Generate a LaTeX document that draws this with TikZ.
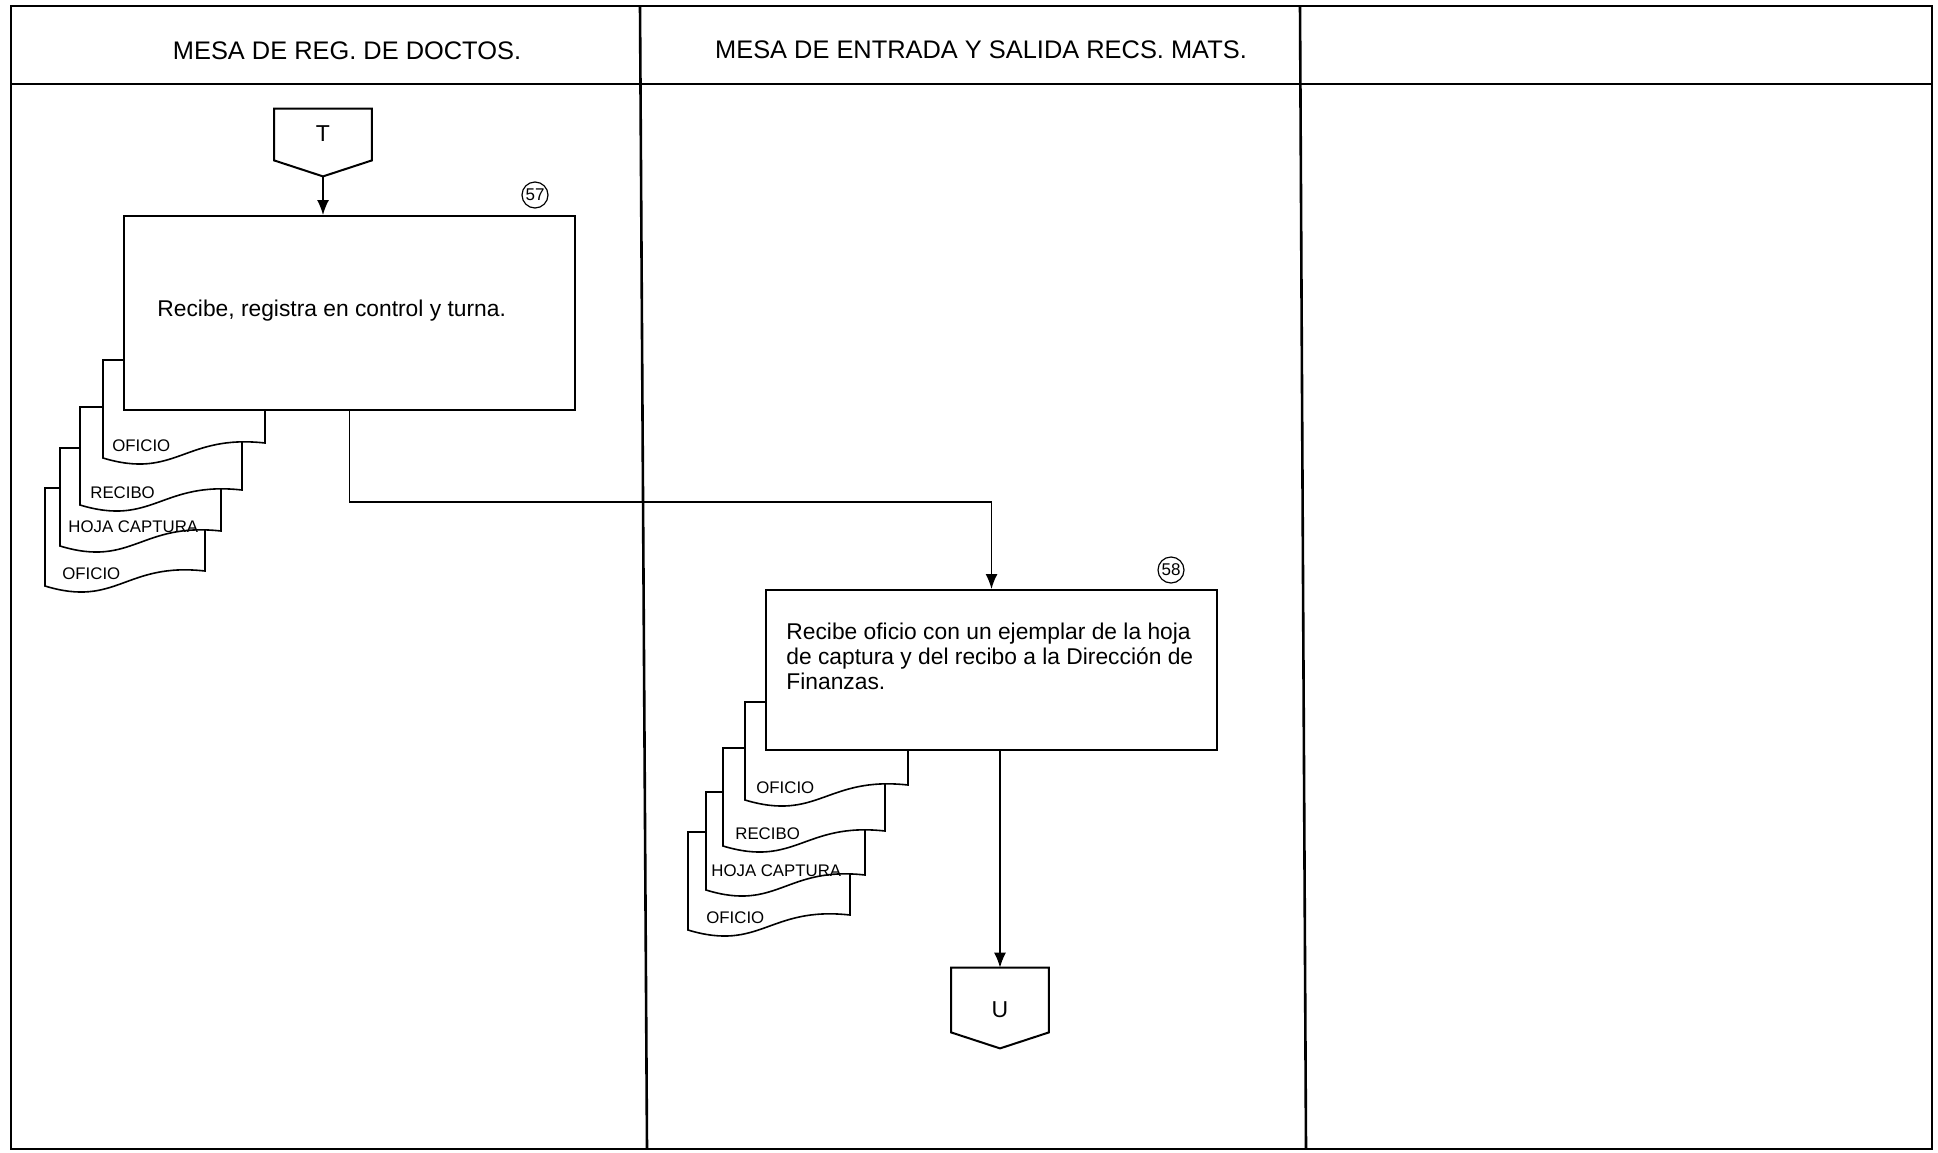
\documentclass[tikz,border=0pt]{standalone}
\usepackage{fontspec}
\setmainfont{Liberation Sans}
\usetikzlibrary{arrows.meta,calc}

\tikzset{
  lane/.style={line width=1.3pt},
  procbox/.style={draw, line width=1pt, fill=white, rectangle, inner sep=0pt},
  flow/.style={line width=0.7pt},
  flowarrow/.style={flow, -{Latex[length=7.5pt,width=6pt]}},
  docshape/.style={draw, line width=0.8pt, fill=white},
  doclabel/.style={font=\fontsize{8.4}{9}\selectfont, anchor=base west, inner sep=0pt},
  steptext/.style={font=\fontsize{11.4}{12.3}\selectfont, align=left, inner sep=0pt},
  headtext/.style={font=\fontsize{12.7}{15}\selectfont, inner sep=0pt, anchor=base},
  stepnum/.style={circle, draw, line width=0.6pt, minimum size=13pt, inner sep=0pt, font=\fontsize{8.5}{9}\selectfont},
  offpageline/.style={draw, line width=1pt, fill=white},
  offpagetext/.style={font=\fontsize{11.5}{13}\selectfont, inner sep=0pt},
}

% a document sheet with a wavy lower edge
% #1 left, #2 top, #3 width, #4 label indent, #5 label baseline, #6 name, #7 label
\newcommand\docsheet[7]{%
  \draw[docshape] (#1,#2) -- ({#1+#3},#2) -- ({#1+#3},{#2+83})
    .. controls ({#1+0.5*#3},{#2+74}) and ({#1+0.45*#3},{#2+120}) .. (#1,{#2+98}) -- cycle;
  \node[doclabel] (#6) at ({#1+#4},{#2+#5}) {#7};
}

\begin{document}
\begin{tikzpicture}[x=0.5pt,y=-0.5pt]
\useasboundingbox (0,0) rectangle (1938,1152);

% lanes
\draw[lane] (11,6) rectangle (1932,1149);
\draw[lane] (11,84) -- (1932,84);
\draw[lane] (640,6) -- (647,1149);
\draw[lane] (1300,6) -- (1306,1149);
\node[headtext] (hA) at (347,59) {MESA DE REG. DE DOCTOS.};
\node[headtext] (hB) at (981,58) {MESA DE ENTRADA Y SALIDA RECS. MATS.};

% documents behind step 57
\docsheet{45}{488}{160}{17}{91}{d57d}{OFICIO}
\docsheet{60}{448}{161}{8}{84}{d57c}{HOJA CAPTURA}
\docsheet{80}{407}{162}{10}{91}{d57b}{RECIBO}
\docsheet{103}{360}{162}{9}{91}{d57a}{OFICIO}

% documents behind step 58
\docsheet{688}{832}{162}{18}{91}{d58d}{OFICIO}
\docsheet{706}{792}{159}{5}{84}{d58c}{HOJA CAPTURA}
\docsheet{723}{748}{162}{12}{91}{d58b}{RECIBO}
\docsheet{745}{702}{163}{11}{91}{d58a}{OFICIO}

% off-page connector T
\node[minimum width=48.5pt, minimum height=25.5pt, inner sep=0pt] (T) at (323,134.5) {};
\coordinate (Tp) at ($(T.south)+(0,16)$);
\draw[offpageline] (T.north west) -- (T.north east) -- (T.south east) -- (Tp) -- (T.south west) -- cycle;
\node[offpagetext] (Tl) at (323,134) {T};

% step 57
\node[procbox, minimum width=225.5pt, minimum height=97pt] (b57) at (349.5,313) {};
\node[steptext, anchor=base west] (t57) at (157,316) {Recibe, registra en control y turna.};
\node[stepnum] (n57) at (535,195) {57};

% step 58
\node[procbox, minimum width=225.5pt, minimum height=80pt] (b58) at (991.5,670) {};
\node[steptext, anchor=base west] (t58) at (786,689) {Recibe oficio con un ejemplar de la hoja\\de captura y del recibo a la Dirección de\\Finanzas.};
\node[stepnum] (n58) at (1171,570) {58};

% off-page connector U
\node[minimum width=48.5pt, minimum height=32pt, inner sep=0pt] (U) at (1000,1000) {};
\coordinate (Up) at ($(U.south)+(0,16)$);
\draw[offpageline] (U.north west) -- (U.north east) -- (U.south east) -- (Up) -- (U.south west) -- cycle;
\node[offpagetext] (Ul) at (1000,1010) {U};

% flow
\draw[flowarrow] (Tp) -- (Tp |- b57.north);
\draw[flowarrow] (b57.south) -- ++(0,91) -| (b58.north);
\draw[flowarrow] (U.north |- b58.south) -- (U.north);
\end{tikzpicture}
\end{document}
